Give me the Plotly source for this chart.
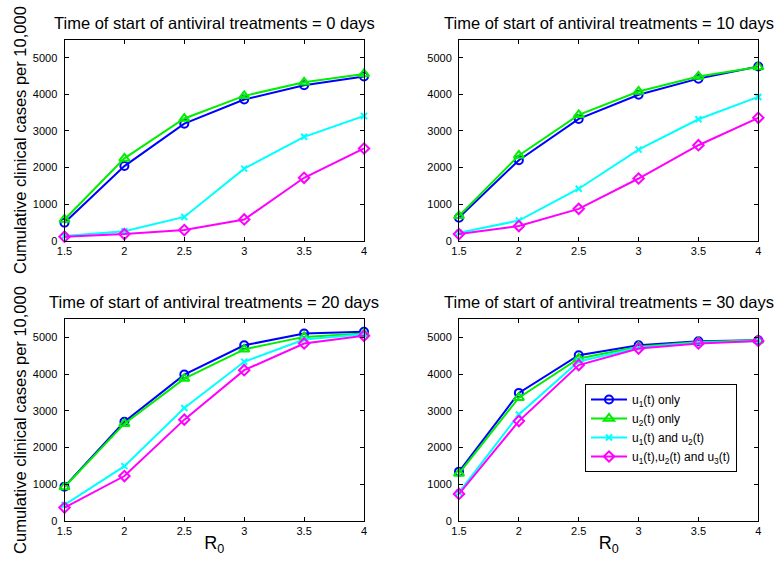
import plotly.graph_objects as go

R0 = [1.5, 2, 2.5, 3, 3.5, 4]
x_ticks = [1.5, 2, 2.5, 3, 3.5, 4]
x_tick_labels = ["1.5", "2", "2.5", "3", "3.5", "4"]
y_ticks = [0, 1000, 2000, 3000, 4000, 5000]
y_tick_labels = ["0", "1000", "2000", "3000", "4000", "5000"]

start_days = [0, 10, 20, 30]
series_names = ["u<sub>1</sub>(t) only", "u<sub>2</sub>(t) only",
                "u<sub>1</sub>(t) and u<sub>2</sub>(t)",
                "u<sub>1</sub>(t),u<sub>2</sub>(t) and u<sub>3</sub>(t)"]

t0_u1 = [490, 2040, 3200, 3860, 4250, 4490]
t0_u2 = [580, 2250, 3340, 3960, 4330, 4560]
t0_u12 = [130, 260, 650, 1970, 2840, 3410]
t0_u123 = [110, 180, 290, 580, 1720, 2520]

t10_u1 = [630, 2200, 3330, 3990, 4430, 4760]
t10_u2 = [680, 2330, 3440, 4080, 4490, 4750]
t10_u12 = [220, 550, 1420, 2490, 3320, 3930]
t10_u123 = [180, 400, 870, 1700, 2610, 3360]

t20_u1 = [930, 2700, 3990, 4790, 5110, 5160]
t20_u2 = [920, 2650, 3880, 4680, 5020, 5110]
t20_u12 = [430, 1490, 3080, 4340, 4950, 5090]
t20_u123 = [360, 1220, 2760, 4110, 4840, 5050]

t30_u1 = [1340, 3490, 4520, 4790, 4900, 4930]
t30_u2 = [1290, 3360, 4430, 4750, 4880, 4930]
t30_u12 = [770, 2900, 4350, 4720, 4860, 4910]
t30_u123 = [730, 2720, 4250, 4700, 4840, 4910]

panels = [
    [t0_u1, t0_u2, t0_u12, t0_u123],
    [t10_u1, t10_u2, t10_u12, t10_u123],
    [t20_u1, t20_u2, t20_u12, t20_u123],
    [t30_u1, t30_u2, t30_u12, t30_u123],
]

colors = ["#0000ff", "#00ee00", "#00ffff", "#ff00ff"]
symbols = ["circle-open", "triangle-up-open", "x-thin-open", "diamond-open"]
msizes = [8, 9, 6, 8]

W, H = 778, 561
FONT = "Liberation Sans, Arial, Helvetica, sans-serif"

# domains in pixels (left, right) and (top, bottom)
xdoms_px = [(64.5, 364), (459, 758.3), (64.5, 364), (459, 758.3)]
ydoms_px = [(39.5, 240.7), (39.5, 240.7), (319.3, 520.7), (319.3, 520.7)]

fig = go.Figure()

for i, data in enumerate(panels):
    ax = "" if i == 0 else str(i + 1)
    for j, ys in enumerate(data):
        fig.add_trace(go.Scatter(
            x=R0, y=ys, mode="lines+markers",
            name=series_names[j],
            line=dict(color=colors[j], width=2),
            marker=dict(symbol=symbols[j], size=msizes[j], color=colors[j],
                        line=dict(color=colors[j], width=2)),
            cliponaxis=False,
            showlegend=(i == 3),
            xaxis="x" + ax, yaxis="y" + ax,
        ))

layout = dict(
    width=W, height=H,
    margin=dict(l=0, r=0, t=0, b=0),
    paper_bgcolor="white", plot_bgcolor="white",
    font=dict(family=FONT, color="black", size=11),
    showlegend=True,
    legend=dict(
        x=585 / W, y=1 - 384 / H, xanchor="left", yanchor="top",
        bgcolor="white", bordercolor="black", borderwidth=1,
        font=dict(size=12, family=FONT, color="black"),
        tracegroupgap=0, itemwidth=36,
        entrywidth=122, entrywidthmode="pixels",
    ),
)

annotations = []
for i in range(4):
    ax = "" if i == 0 else str(i + 1)
    xl, xr = xdoms_px[i]
    yt, yb = ydoms_px[i]
    layout["xaxis" + ax] = dict(
        domain=[xl / W, xr / W], range=[1.5, 4], anchor="y" + ax,
        tickvals=x_ticks, ticktext=x_tick_labels,
        showline=True, mirror="ticks", linecolor="black", linewidth=1,
        ticks="inside", ticklen=4, tickcolor="black",
        showgrid=False, zeroline=False, automargin=False,
        tickfont=dict(size=11, color="black"),
        title=dict(text="R<sub>0</sub>" if i >= 2 else "",
                   font=dict(size=18, color="black"), standoff=0),
    )
    layout["yaxis" + ax] = dict(
        domain=[1 - yb / H, 1 - yt / H], range=[0, 5500], anchor="x" + ax,
        tickvals=y_ticks, ticktext=y_tick_labels,
        showline=True, mirror="ticks", linecolor="black", linewidth=1,
        ticks="inside", ticklen=4, tickcolor="black",
        showgrid=False, zeroline=False, automargin=False,
        tickfont=dict(size=11, color="black"),
        ticklabelstandoff=4,
        title=dict(text="Cumulative clinical cases per 10,000" if i in (0, 2) else "",
                   font=dict(size=16.5, color="black"), standoff=2),
    )
    annotations.append(dict(
        text="Time of start of antiviral treatments = %d days" % start_days[i],
        xref="paper", yref="paper",
        x=(xl + xr) / 2 / W, y=1 - (yt - 17) / H,
        xanchor="center", yanchor="middle", showarrow=False,
        font=dict(size=16.5, color="black", family=FONT),
    ))

layout["annotations"] = annotations
fig.update_layout(**layout)
fig.write_html("out.html")
